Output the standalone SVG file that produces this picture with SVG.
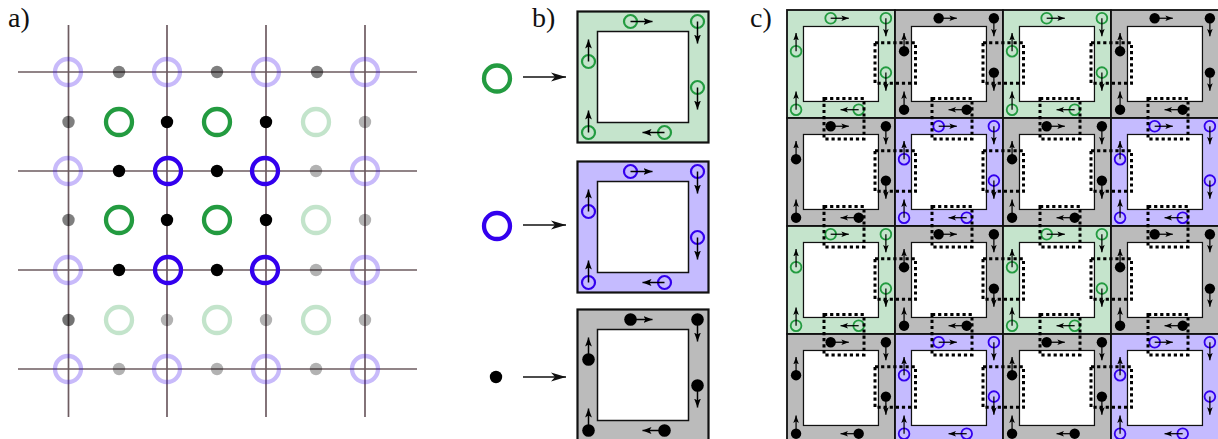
<svg xmlns="http://www.w3.org/2000/svg" width="1218" height="439" viewBox="0 0 1218 439">
<style>
text{font-family:"Liberation Serif","Times New Roman",serif;font-size:28px;fill:#111}
.grid{stroke:#6d5b61;stroke-width:1.7;fill:none}
.ringG{fill:none;stroke:#239b40;stroke-width:4.3}
.ringP{fill:none;stroke:#3300ee;stroke-width:4.3}
.dot{fill:#000}
.f{opacity:.27}
.m{opacity:.5}
.l{opacity:.3}
.d{opacity:.55}
.frame{stroke:#111;stroke-width:2.2}
.inner{fill:#fff;stroke:#111;stroke-width:1.5}
.tg{fill:none;stroke:#239b40;stroke-width:2.2}
.tp{fill:none;stroke:#3300ee;stroke-width:2.2}
.tk{fill:#000}
.ar{stroke:#000;stroke-width:1.5;fill:none;marker-end:url(#head)}
.big{stroke:#111;stroke-width:1.5;fill:none;marker-end:url(#bighead)}
.dots{fill:none;stroke:#000;stroke-width:3;stroke-dasharray:3.2 2.9}
</style>
<defs>
<filter id="soft" x="0" y="0" width="430" height="430" filterUnits="userSpaceOnUse"><feGaussianBlur stdDeviation="0.5"/></filter>
<marker id="head" markerUnits="userSpaceOnUse" markerWidth="10" markerHeight="8" refX="9" refY="4" orient="auto"><path d="M0 .6L9 4L0 7.4L2 4Z" fill="#000"/></marker>
<marker id="bighead" markerUnits="userSpaceOnUse" markerWidth="16" markerHeight="10" refX="15" refY="5" orient="auto"><path d="M0 .6L15 5L0 9.4L4 5Z" fill="#111"/></marker>
<g id="arrows">
<path class="ar" d="M53 10H75"/><path class="ar" d="M120 10V32"/><path class="ar" d="M120 76V98"/>
<path class="ar" d="M87 121H65"/><path class="ar" d="M11 50V28"/><path class="ar" d="M11 121V99"/>
</g>
<g id="tG"><rect class="frame" x="0" y="0" width="131" height="131" fill="#c5e4cc"/><rect class="inner" x="20" y="20" width="91" height="91"/><g class="tg"><circle cx="53" cy="10" r="6.5"/><circle cx="120" cy="10" r="6.5"/><circle cx="120" cy="76" r="6.5"/><circle cx="87" cy="121" r="6.5"/><circle cx="11" cy="50" r="6.5"/><circle cx="11" cy="121" r="6.5"/></g><use href="#arrows"/></g>
<g id="tP"><rect class="frame" x="0" y="0" width="131" height="131" fill="#c5bbff"/><rect class="inner" x="20" y="20" width="91" height="91"/><g class="tp"><circle cx="53" cy="10" r="6.5"/><circle cx="120" cy="10" r="6.5"/><circle cx="120" cy="76" r="6.5"/><circle cx="87" cy="121" r="6.5"/><circle cx="11" cy="50" r="6.5"/><circle cx="11" cy="121" r="6.5"/></g><use href="#arrows"/></g>
<g id="tK"><rect class="frame" x="0" y="0" width="131" height="131" fill="#bbbbbb"/><rect class="inner" x="20" y="20" width="91" height="91"/><g class="tk"><circle cx="53" cy="10" r="6.3"/><circle cx="120" cy="10" r="6.3"/><circle cx="120" cy="76" r="6.3"/><circle cx="87" cy="121" r="6.3"/><circle cx="11" cy="50" r="6.3"/><circle cx="11" cy="121" r="6.3"/></g><use href="#arrows"/></g>
<rect id="dv" class="dots" x="-20" y="0" width="40.5" height="40.6"/>
<rect id="dh" class="dots" x="0" y="-19.5" width="40" height="40.5"/>
</defs>
<rect width="1218" height="439" fill="#fff"/>
<text x="8" y="27">a)</text>
<text x="532" y="27">b)</text>
<text x="750" y="27">c)</text>
<g id="connectors">
<g id="grid-lines" filter="url(#soft)">
<path class="grid" d="M68.500 25V417"/><path class="grid" d="M167 25V417"/><path class="grid" d="M266 25V417"/><path class="grid" d="M365 25V417"/>
<path class="grid" d="M18 72H417"/><path class="grid" d="M18 171H417"/><path class="grid" d="M18 270H417"/><path class="grid" d="M18 369H417"/>
</g>
<path class="big" d="M523 77H566"/><path class="big" d="M523 225H566"/><path class="big" d="M523 377H566"/>
</g>
<g id="lattice">
<g id="rings-purple" class="ringP">
<circle class="f" cx="68" cy="72" r="13"/><circle class="f" cx="167" cy="72" r="13"/><circle class="f" cx="266" cy="72" r="13"/><circle class="f" cx="365" cy="72" r="13"/>
<circle class="f" cx="68" cy="171" r="13"/><circle cx="168" cy="171" r="13"/><circle cx="265" cy="171" r="13"/><circle class="f" cx="365" cy="171" r="13"/>
<circle class="f" cx="68" cy="270" r="13"/><circle cx="168" cy="270" r="13"/><circle cx="265" cy="270" r="13"/><circle class="f" cx="365" cy="270" r="13"/>
<circle class="f" cx="68" cy="369" r="13"/><circle class="f" cx="167" cy="369" r="13"/><circle class="f" cx="266" cy="369" r="13"/><circle class="f" cx="365" cy="369" r="13"/>
</g>
<g id="rings-green" class="ringG">
<circle cx="119" cy="122" r="13"/><circle cx="217" cy="122" r="13"/><circle class="f" cx="316" cy="122" r="13"/>
<circle cx="119" cy="220" r="13"/><circle cx="217" cy="220" r="13"/><circle class="f" cx="316" cy="220" r="13"/>
<circle class="f" cx="119" cy="320" r="13"/><circle class="f" cx="217" cy="320" r="13"/><circle class="f" cx="316" cy="320" r="13"/>
</g>
<g id="dots" class="dot">
<circle class="m" cx="119" cy="72" r="6.2"/><circle class="m" cx="217" cy="72" r="6.2"/><circle class="m" cx="317" cy="72" r="6.2"/>
<circle class="m" cx="68.500" cy="122" r="6.2"/><circle cx="167" cy="122" r="6.2"/><circle cx="266" cy="122" r="6.2"/><circle class="l" cx="365" cy="122" r="6.2"/>
<circle cx="119" cy="171" r="6.2"/><circle cx="217" cy="171" r="6.2"/><circle class="l" cx="316" cy="171" r="6.2"/>
<circle class="m" cx="68.500" cy="220" r="6.2"/><circle cx="167" cy="220" r="6.2"/><circle cx="266" cy="220" r="6.2"/><circle class="l" cx="365" cy="220" r="6.2"/>
<circle cx="119" cy="270" r="6.2"/><circle cx="217" cy="270" r="6.2"/><circle class="l" cx="316" cy="270" r="6.2"/>
<circle class="d" cx="68.500" cy="320" r="6.2"/><circle class="l" cx="167" cy="320" r="6.2"/><circle class="l" cx="266" cy="320" r="6.2"/><circle class="l" cx="365" cy="320" r="6.2"/>
<circle class="l" cx="119" cy="369" r="6.2"/><circle class="l" cx="217" cy="369" r="6.2"/><circle class="l" cx="316" cy="369" r="6.2"/>
</g>
</g>
<g id="legend-green"><circle class="ringG" cx="497" cy="78.500" r="13"/></g>
<g id="legend-purple"><circle class="ringP" cx="497" cy="226" r="13"/></g>
<g id="legend-black"><circle class="dot" cx="496" cy="377" r="6.2"/></g>
<g id="b-green"><use href="#tG" transform="translate(577.500 11.500)"/></g>
<g id="b-purple"><use href="#tP" transform="translate(577.500 161.500)"/></g>
<g id="b-black"><use href="#tK" transform="translate(577.500 309.500)"/></g>
<g id="c-r0c0"><use href="#tG" transform="translate(787 10) scale(.824)"/></g>
<g id="c-r0c1"><use href="#tK" transform="translate(895 10) scale(.824)"/></g>
<g id="c-r0c2"><use href="#tG" transform="translate(1003 10) scale(.824)"/></g>
<g id="c-r0c3"><use href="#tK" transform="translate(1111 10) scale(.824)"/></g>
<g id="c-r1c0"><use href="#tK" transform="translate(787 118) scale(.824)"/></g>
<g id="c-r1c1"><use href="#tP" transform="translate(895 118) scale(.824)"/></g>
<g id="c-r1c2"><use href="#tK" transform="translate(1003 118) scale(.824)"/></g>
<g id="c-r1c3"><use href="#tP" transform="translate(1111 118) scale(.824)"/></g>
<g id="c-r2c0"><use href="#tG" transform="translate(787 226) scale(.824)"/></g>
<g id="c-r2c1"><use href="#tK" transform="translate(895 226) scale(.824)"/></g>
<g id="c-r2c2"><use href="#tG" transform="translate(1003 226) scale(.824)"/></g>
<g id="c-r2c3"><use href="#tK" transform="translate(1111 226) scale(.824)"/></g>
<g id="c-r3c0"><use href="#tK" transform="translate(787 334) scale(.824)"/></g>
<g id="c-r3c1"><use href="#tP" transform="translate(895 334) scale(.824)"/></g>
<g id="c-r3c2"><use href="#tK" transform="translate(1003 334) scale(.824)"/></g>
<g id="c-r3c3"><use href="#tP" transform="translate(1111 334) scale(.824)"/></g>
<g id="dotted-squares">
<use href="#dv" x="895" y="42.700"/><use href="#dv" x="1003" y="42.700"/><use href="#dv" x="1111" y="42.700"/>
<use href="#dv" x="895" y="150.700"/><use href="#dv" x="1003" y="150.700"/><use href="#dv" x="1111" y="150.700"/>
<use href="#dv" x="895" y="258.700"/><use href="#dv" x="1003" y="258.700"/><use href="#dv" x="1111" y="258.700"/>
<use href="#dv" x="895" y="366.700"/><use href="#dv" x="1003" y="366.700"/><use href="#dv" x="1111" y="366.700"/>
<use href="#dh" x="824" y="118"/><use href="#dh" x="932" y="118"/><use href="#dh" x="1040" y="118"/><use href="#dh" x="1148" y="118"/>
<use href="#dh" x="824" y="226"/><use href="#dh" x="932" y="226"/><use href="#dh" x="1040" y="226"/><use href="#dh" x="1148" y="226"/>
<use href="#dh" x="824" y="334"/><use href="#dh" x="932" y="334"/><use href="#dh" x="1040" y="334"/><use href="#dh" x="1148" y="334"/>
</g>
</svg>
